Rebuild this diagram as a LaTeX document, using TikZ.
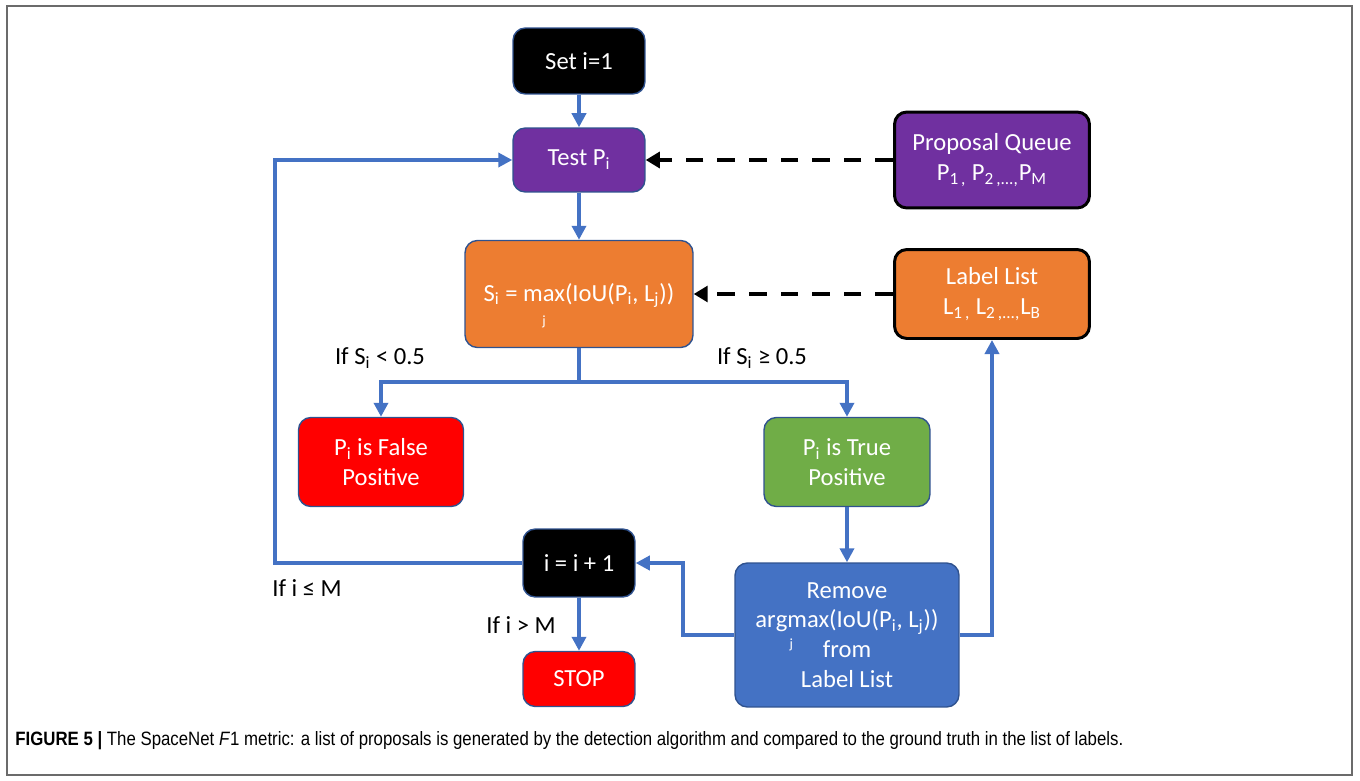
\documentclass[tikz,border=0pt]{standalone}
\usepackage{fontspec}
\setmainfont{Carlito}
\newfontfamily\capfont[FakeStretch=0.87]{Liberation Sans}
\usetikzlibrary{positioning,arrows.meta}

\definecolor{boxpurple}{HTML}{7030A0}
\definecolor{boxorange}{HTML}{ED7D31}
\definecolor{boxred}{HTML}{FF0000}
\definecolor{boxgreen}{HTML}{70AD47}
\definecolor{boxblue}{HTML}{4472C4}
\definecolor{boxedge}{HTML}{2F528F}
\definecolor{flowblue}{HTML}{4472C4}
\definecolor{framegray}{HTML}{6B6B6B}

\newcommand{\undersub}[3]{\raisebox{0pt}[\height][0pt]{\begin{tabular}[t]{@{}c@{}}#1\\[#3]{\fontsize{8}{8}\selectfont #2}\end{tabular}}}

\begin{document}
\begin{tikzpicture}[x=0.02cm, y=-0.02cm,
  box/.style={rectangle, rounded corners=7pt, draw=boxedge, line width=0.8pt, text=white,
    align=center, inner sep=2pt, font=\fontsize{14}{17}\selectfont},
  listbox/.style={box, draw=black, line width=1.7pt},
  flow/.style={draw=flowblue, line width=2.2pt, -{Triangle[length=8pt,width=8pt]}},
  feed/.style={draw=black, line width=2.8pt, dash pattern=on 10pt off 8pt, -{Triangle[length=8pt,width=9pt]}},
  cond/.style={text=black, font=\fontsize{14}{17}\selectfont}]
\useasboundingbox (0,0) rectangle (1360,781);
\draw[framegray, line width=0.9pt] (7,6) rectangle (1352,775);

\node[box, fill=black, minimum width=2.64cm, minimum height=1.32cm] (set) at (579,61) {Set i=1};
\node[box, fill=boxpurple, minimum width=2.64cm, minimum height=1.28cm] (test) at (579,160) {Test P\textsubscript{i}};
\node[listbox, fill=boxpurple, minimum width=3.9cm, minimum height=1.92cm] (queue) at (992,160) {Proposal Queue\\P\textsubscript{1\,,} P\textsubscript{2\,,...,}P\textsubscript{M}};
\node[box, fill=boxorange, minimum width=4.56cm, minimum height=2.14cm] (score) at (579,294) {S\textsubscript{i} = \undersub{max}{j}{-3pt}(IoU(P\textsubscript{i}, L\textsubscript{j}))};
\node[listbox, fill=boxorange, minimum width=3.9cm, minimum height=1.78cm] (labels) at (992,294) {Label List\\L\textsubscript{1\,,} L\textsubscript{2\,,...,}L\textsubscript{B}};
\node[box, fill=boxred, minimum width=3.3cm, minimum height=1.78cm] (false) at (381,462) {P\textsubscript{i} is False\\Positive};
\node[box, fill=boxgreen, minimum width=3.32cm, minimum height=1.78cm] (true) at (847,462) {P\textsubscript{i} is True\\Positive};
\node[box, fill=black, minimum width=2.24cm, minimum height=1.36cm] (incr) at (579,563) {i = i + 1};
\node[box, fill=boxred, minimum width=2.24cm, minimum height=1.1cm] (stop) at (579,679) {STOP};
\node[box, fill=boxblue, minimum width=4.48cm, minimum height=2.88cm] (remove) at (847,635) {Remove\\ar\undersub{gm}{j}{-5pt}ax(IoU(P\textsubscript{i}, L\textsubscript{j}))\\from\\Label List};

\coordinate (split) at (579,382);
\coordinate (back) at (683,635);
\coordinate (loop) at (275,563);

\draw[flow] (set) -- (test);
\draw[flow] (test) -- (score);
\draw[feed] (queue) -- (test);
\draw[feed] (labels) -- (score);
\draw[flowblue, line width=2.2pt] (score) -- (split);
\draw[flow] (split) -| (false);
\draw[flow] (split) -| (true);
\draw[flow] (true) -- (remove);
\draw[flow] (remove.west) -- (back) |- (incr.east);
\draw[flow] (remove.east) -| (labels.south);
\draw[flow] (incr.west) -- (loop) |- (test.west);
\draw[flow] (incr) -- (stop);

\node[cond] (lowlbl) at (380,358) {If S\textsubscript{i} < 0.5};
\node[cond] (highlbl) at (762,358) {If S\textsubscript{i} ≥ 0.5};
\node[cond] (againlbl) at (307,588) {If i ≤ M};
\node[cond] (endlbl) at (521,625) {If i > M};

\node[anchor=west, inner sep=0pt, font=\capfont\fontsize{11}{13}\selectfont] (caption) at (15,741) {\textbf{FIGURE 5 |} The SpaceNet \textit{F}1 metric: a list of proposals is generated by the detection algorithm and compared to the ground truth in the list of labels.};
\end{tikzpicture}
\end{document}
